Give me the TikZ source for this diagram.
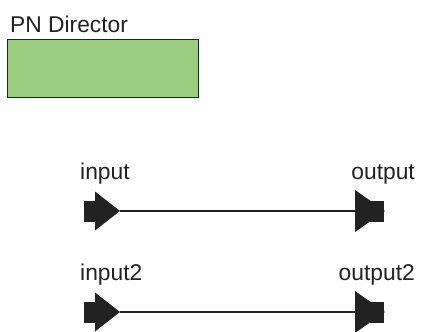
\documentclass[tikz,border=0pt]{standalone}
\usepackage{fontspec}
\setmainfont{Liberation Sans}
\definecolor{dirgreen}{RGB}{153,206,128}
\definecolor{inkgray}{RGB}{34,34,34}
\newcommand{\inport}[2]{%
  \begin{scope}[shift={(#2)}]
    \fill[inkgray] (-36,-10.5) rectangle (-23,10.5);
    \fill[inkgray] (-25,-19.5) -- (0,0) -- (-25,19.5) -- cycle;
  \end{scope}
  \coordinate (#1) at (#2);}
\newcommand{\outport}[2]{%
  \begin{scope}[shift={(#2)}]
    \fill[inkgray] (0,-21) -- (30,0) -- (0,21) -- cycle;
    \fill[inkgray] (15,-10.5) rectangle (29,10.5);
  \end{scope}
  \coordinate (#1) at (#2);}

\begin{document}
\begin{tikzpicture}[x=1pt, y=-1pt, font=\fontsize{22.8}{27}\selectfont, text=inkgray]
  \useasboundingbox (0,0) rectangle (432,332);
  \node[anchor=base west, inner sep=0] (title) at (10,32) {PN Director};
  \node[draw=inkgray, fill=dirgreen, line width=1.2pt, minimum width=191pt,
    minimum height=58pt, inner sep=0, anchor=north west] (director) at (7,39) {};
  \foreach \i/\tin/\tout in {1/input/output, 2/input2/output2}
    {\pgfmathsetmacro{\yy}{211+(\i-1)*101}
     \inport{in\i}{120,\yy}
     \outport{out\i}{355,\yy}
     \draw[line width=2.2pt, inkgray] (in\i) -- (out\i);
     \node[anchor=base west, inner sep=0] (lin\i) at (80,\yy-32) {\tin};
     \node[anchor=base east, inner sep=0] (lout\i) at (415,\yy-32) {\tout};}
\end{tikzpicture}
\end{document}
